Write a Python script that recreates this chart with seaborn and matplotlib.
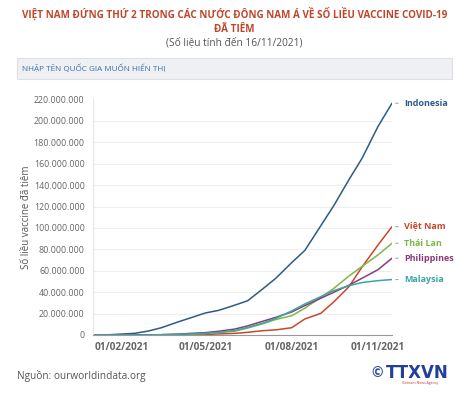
import matplotlib
matplotlib.use("Agg")
import matplotlib.pyplot as plt
import matplotlib.dates as mdates
from matplotlib.patches import Rectangle
from matplotlib.ticker import FuncFormatter
import pandas as pd
import seaborn as sns

# cumulative doses (millions)
dates = ["2021-01-01", "2021-01-13", "2021-02-01", "2021-02-15", "2021-03-01",
         "2021-03-15", "2021-04-01", "2021-04-15", "2021-05-01", "2021-05-15",
         "2021-06-01", "2021-06-15", "2021-07-01", "2021-07-15", "2021-08-01",
         "2021-08-15", "2021-09-01", "2021-09-15", "2021-10-01", "2021-10-15",
         "2021-11-01", "2021-11-16"]

indonesia = [0, 0, 0.9, 1.6, 3.7, 6.8, 12.0, 16.0, 20.6, 23.0, 27.8, 32.0,
             43.0, 53.0, 67.6, 79.0, 102.0, 121.0, 145.0, 165.0, 194.7, 216.5]
viet_nam = [0, 0, 0, 0, 0, 0.02, 0.05, 0.1, 0.5, 1.0, 1.5, 2.5,
            4.0, 4.8, 6.8, 15.0, 20.2, 31.0, 45.0, 63.5, 84.0, 101.2]
thai_lan = [0, 0, 0, 0, 0, 0.05, 0.2, 0.6, 1.5, 2.3, 3.5, 6.5,
            10.5, 14.5, 18.0, 25.0, 35.2, 43.6, 55.0, 64.0, 74.8, 85.7]
philippines = [0, 0, 0, 0, 0, 0.3, 0.8, 1.5, 2.2, 3.5, 5.5, 8.5,
               12.8, 16.5, 21.5, 27.5, 34.3, 40.0, 46.5, 53.0, 61.0, 71.7]
malaysia = [0, 0, 0, 0, 0.05, 0.3, 0.7, 1.0, 1.6, 2.5, 4.2, 7.0,
            11.0, 15.5, 22.5, 29.0, 35.8, 41.5, 46.0, 49.0, 50.8, 51.8]

countries = ["Indonesia", "Việt Nam", "Thái Lan", "Philippines", "Malaysia"]
series = [indonesia, viet_nam, thai_lan, philippines, malaysia]
colors = ["#2b5c87", "#c9472b", "#7cb84a", "#8c3a7a", "#3aa6a3"]

frames = []
for name, vals in zip(countries, series):
    frames.append(pd.DataFrame({"date": pd.to_datetime(dates),
                                "doses": [v * 1e6 for v in vals],
                                "country": name}))
df = pd.concat(frames, ignore_index=True)

sns.set_style("white")
plt.rcParams["font.family"] = ["Open Sans", "DejaVu Sans"]

fig = plt.figure(figsize=(4.69, 3.99), dpi=100)
ax = fig.add_axes([93 / 469, 1 - 335 / 399, (392 - 93) / 469, (335 - 99.5) / 399])

sns.lineplot(data=df, x="date", y="doses", hue="country", hue_order=countries,
             palette=colors, linewidth=1.1, legend=False, ax=ax)

ax.set_xlim(pd.Timestamp("2021-01-01"), pd.Timestamp("2021-11-16"))
ax.set_ylim(0, 220e6)
ax.set_yticks([i * 20e6 for i in range(12)])
ax.yaxis.set_major_formatter(FuncFormatter(lambda v, p: f"{int(v):,}".replace(",", ".")))
ax.tick_params(axis="y", length=0, labelsize=6.4, labelcolor="#666666", pad=6)
ax.grid(axis="y", color="#eeeeee", linewidth=0.8)

ax.xaxis.set_major_locator(mdates.MonthLocator(bymonth=[2, 5, 8, 11]))
ax.xaxis.set_major_formatter(mdates.DateFormatter("%d/%m/%Y"))
ax.xaxis.set_minor_locator(mdates.MonthLocator())
ax.tick_params(axis="x", which="both", direction="out", length=4, color="#999999",
               labelsize=7.3, labelcolor="#666666", pad=1)
for lbl in ax.get_xticklabels():
    lbl.set_fontweight("bold")

for side in ["top", "right"]:
    ax.spines[side].set_visible(False)
ax.spines["left"].set_color("#e6e6e6")
ax.spines["bottom"].set_color("#999999")
ax.set_xlabel("")
ax.set_ylabel("Số liều vaccine đã tiêm", fontsize=7, color="#555555")
ax.yaxis.set_label_coords((32 - 93) / 299, 0.5)

# end labels with short leader dash
for name, vals, col in zip(countries, series, colors):
    y = vals[-1] * 1e6
    ax.annotate(name, xy=(1, y), xycoords=("axes fraction", "data"),
                xytext=(8.5, 0), textcoords="offset points", va="center", ha="left",
                fontsize=6.5, fontweight="bold", color=col)
    ax.annotate("", xy=(1.012, y), xycoords=("axes fraction", "data"),
                xytext=(1.03, y),
                arrowprops=dict(arrowstyle="-", color="#aaaaaa", linewidth=0.8))

# titles
fig.text(0.5, 1 - 14.5 / 399, "VIỆT NAM ĐỨNG THỨ 2 TRONG CÁC NƯỚC ĐÔNG NAM Á VỀ SỐ LIỀU VACCINE COVID-19",
         ha="center", va="center", fontsize=7.1, fontweight="bold", color="#c0462a")
fig.text(0.5, 1 - 29 / 399, "ĐÃ TIÊM", ha="center", va="center", fontsize=7.1,
         fontweight="bold", color="#c0462a")
fig.text(0.5, 1 - 43 / 399, "(Số liệu tính đến 16/11/2021)", ha="center", va="center",
         fontsize=7.3, color="#555555")

# search box
fig.patches.append(Rectangle((17 / 469, 1 - 79 / 399), 435 / 469, 21 / 399,
                             transform=fig.transFigure, facecolor="#eef0f3",
                             edgecolor="#dde1e6", linewidth=0.8))
fig.text(22 / 469, 1 - 69 / 399, "NHẬP TÊN QUỐC GIA MUỐN HIỂN THỊ", ha="left",
         va="center", fontsize=5.9, color="#3f6fa6")

# footer
fig.text(17 / 469, 1 - 376 / 399, "Nguồn: ourworldindata.org", ha="left", va="center",
         fontsize=7.3, color="#555555")
fig.text(371 / 469, 1 - 373 / 399, "©", ha="left", va="center", fontsize=10,
         fontweight="bold", color="#2f4fa0")
fig.text(386 / 469, 1 - 373 / 399, "TTXVN", ha="left", va="center", fontsize=12,
         fontweight="heavy", color="#22409a", family=["DejaVu Sans"])
fig.text(420 / 469, 1 - 383 / 399, "Vietnam News Agency", ha="center", va="center",
         fontsize=2.5, color="#d03030")

fig.savefig("out.png", dpi=100)
